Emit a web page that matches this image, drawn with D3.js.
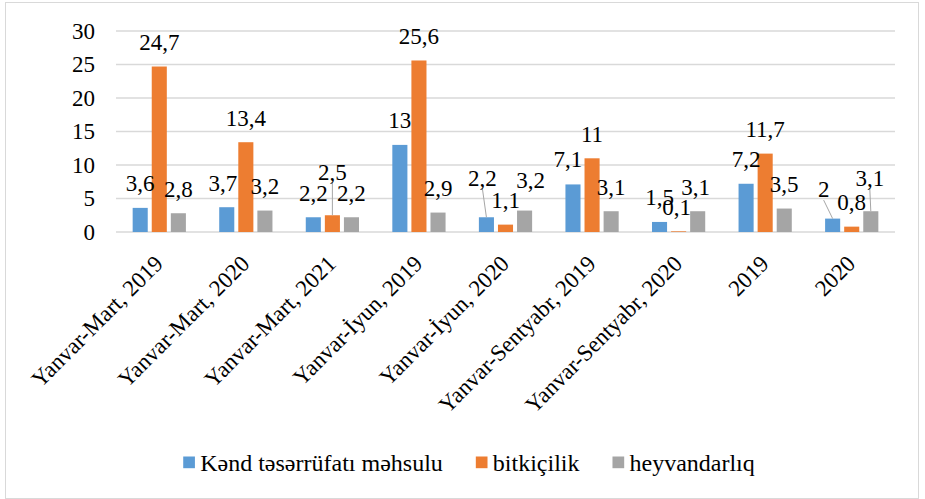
<!DOCTYPE html>
<html><head><meta charset="utf-8">
<script src="https://cdn.jsdelivr.net/npm/d3@7"></script>
<style>
body{margin:0;background:#fff;}
svg{display:block;}
svg text{font-family:"Liberation Serif","DejaVu Serif",serif;}
</style>
</head><body>
<svg id="c" width="925" height="499"></svg>
<script>
const categories = ["Yanvar-Mart, 2019","Yanvar-Mart, 2020","Yanvar-Mart, 2021","Yanvar-İyun, 2019","Yanvar-İyun, 2020","Yanvar-Sentyabr, 2019","Yanvar-Sentyabr, 2020","2019","2020"];
const seriesNames = ["Kənd təsərrüfatı məhsulu","bitkiçilik","heyvandarlıq"];
const kendValues = [3.6,3.7,2.2,13,2.2,7.1,1.5,7.2,2];
const bitkiValues = [24.7,13.4,2.5,25.6,1.1,11,0.1,11.7,0.8];
const heyvanValues = [2.8,3.2,2.2,2.9,3.2,3.1,3.1,3.5,3.1];
const yTicks = [0,5,10,15,20,25,30];
const seriesColors = ["#5b9bd5","#ed7d31","#a5a5a5"];
// manual label nudges (series index, category index, dx, dy, leader line)
const labelNudges = [
  [0,1,-4,0,false],[1,2,0,-19,true],[0,4,-4,-15,true],[2,4,6,-6,false],
  [0,5,-5,-1,false],[1,6,-2,0,false],[2,6,-2,0,false],[0,8,-9,-5,true],[2,8,-1,-9,true]
];

const seriesValues = [kendValues, bitkiValues, heyvanValues];
const svg = d3.select("#c");
const fmt = v => String(v).replace(".", ",");

// outer chart border
svg.append("rect").attr("x",5.5).attr("y",2.5).attr("width",913).attr("height",496)
  .attr("fill","none").attr("stroke","#d9d9d9").attr("stroke-width",1);

const plot = {left:116, right:895, top:31, bottom:232};
const y = d3.scaleLinear().domain([0,30]).range([plot.bottom, plot.top]);
const x0 = d3.scaleBand().domain(categories).range([plot.left, plot.right]).paddingInner(0.385).paddingOuter(0.1925);
const x1 = d3.scaleBand().domain([0,1,2]).range([0, x0.bandwidth()]).paddingInner(0.21);

// gridlines
svg.append("g").selectAll("line").data(yTicks).join("line")
  .attr("x1",plot.left).attr("x2",plot.right)
  .attr("y1",d=>y(d)).attr("y2",d=>y(d))
  .attr("stroke","#d9d9d9").attr("stroke-width",1.3);

// y tick labels
svg.append("g").selectAll("text").data(yTicks).join("text")
  .attr("x",95).attr("y",d=>y(d)).attr("dy","0.33em")
  .attr("text-anchor","end").attr("font-size",23).attr("fill","#000")
  .text(d=>d);

// bars
const barData = [];
seriesValues.forEach((vals,s)=>vals.forEach((v,c)=>barData.push({s,c,v})));
svg.append("g").selectAll("rect").data(barData).join("rect")
  .attr("x",d=>x0(categories[d.c])+x1(d.s))
  .attr("width",x1.bandwidth())
  .attr("y",d=>y(d.v))
  .attr("height",d=>y(0)-y(d.v))
  .attr("fill",d=>seriesColors[d.s]);

// data labels
const labelG = svg.append("g");
barData.forEach(d=>{
  const n = labelNudges.find(a=>a[0]===d.s && a[1]===d.c);
  const bx = x0(categories[d.c])+x1(d.s)+x1.bandwidth()/2;
  const by = y(d.v);
  const lx = bx + (n?n[2]:0);
  const ly = by - 16.5 + (n?n[3]:0);
  if(n && n[4]){
    labelG.append("line").attr("x1",lx).attr("y1",ly+3).attr("x2",bx).attr("y2",by)
      .attr("stroke","#a6a6a6").attr("stroke-width",1);
  }
  labelG.append("text").attr("x",lx).attr("y",ly)
    .attr("text-anchor","middle").attr("font-size",23).attr("fill","#000")
    .text(fmt(d.v));
});

// x axis labels
svg.append("g").selectAll("text").data(categories).join("text")
  .attr("transform",d=>`translate(${x0(d)+x0.bandwidth()/2+5},265) rotate(-45)`)
  .attr("text-anchor","end").attr("font-size",23).attr("fill","#000")
  .text(d=>d);

// legend
const leg = svg.append("g");
let lxPos = 0;
seriesNames.forEach((name,i)=>{
  const g = leg.append("g");
  g.append("rect").attr("x",0).attr("y",-14.5).attr("width",11.7).attr("height",11.7).attr("fill",seriesColors[i]);
  const t = g.append("text").attr("x",17).attr("y",0).attr("font-size",24).attr("fill","#000").text(name);
  const w = 17 + t.node().getComputedTextLength();
  g.attr("transform",`translate(${lxPos},471)`);
  lxPos += w + 33;
});
const totalW = lxPos - 33;
leg.attr("transform",`translate(${469 - totalW/2},0)`);
</script>
</body></html>
